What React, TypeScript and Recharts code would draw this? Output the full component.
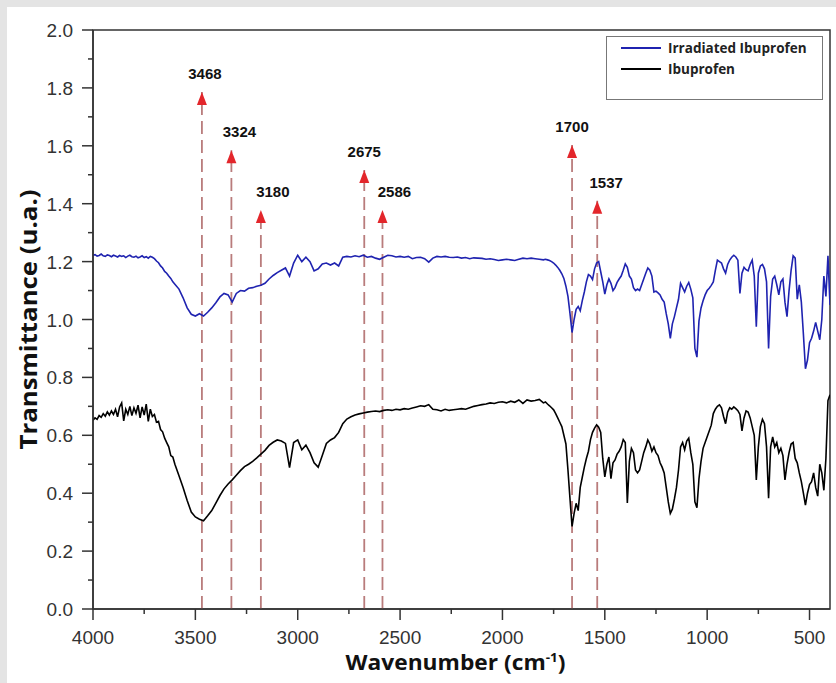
import React from 'react'
import {
  ComposedChart, Line, XAxis, YAxis, ReferenceLine, ReferenceDot,
  ReferenceArea, Label,
} from 'recharts'

// wavenumber grid (cm-1)
const wavenumbers = [
  4000, 3990, 3980, 3970, 3960, 3950, 3940, 3930, 3920, 3910,
  3900, 3890, 3880, 3870, 3860, 3850, 3840, 3830, 3820, 3810,
  3800, 3790, 3780, 3770, 3760, 3750, 3740, 3730, 3720, 3710,
  3700, 3690, 3680, 3670, 3660, 3650, 3640, 3630, 3620, 3610,
  3600,
  3580, 3560, 3540, 3520, 3500, 3480, 3460, 3440, 3420, 3400,
  3380, 3360, 3340, 3320, 3300, 3280, 3260, 3240, 3220, 3200,
  3180, 3160, 3140, 3120, 3100, 3080, 3060, 3040, 3020, 3000,
  2980, 2960, 2940, 2920, 2900, 2880, 2860, 2840, 2820, 2800,
  2780, 2760, 2740, 2720, 2700, 2680, 2660, 2640, 2620, 2600,
  2580, 2560, 2540, 2520, 2500, 2480, 2460, 2440, 2420, 2400,
  2380, 2360, 2340, 2320, 2300, 2280, 2260, 2240, 2220, 2200,
  2180, 2160, 2140, 2120, 2100, 2080, 2060, 2040, 2020, 2000,
  1980, 1960, 1940, 1920, 1900, 1880, 1860, 1840, 1820, 1800,
  1790, 1780, 1770, 1760, 1750, 1740, 1730, 1720, 1710, 1700,
  1690, 1680, 1670, 1660, 1650, 1640, 1630, 1620, 1610, 1600,
  1590, 1580, 1570, 1560, 1550, 1540, 1530, 1520, 1510, 1500,
  1490, 1480, 1470, 1460, 1450, 1440, 1430, 1420, 1410, 1400,
  1390, 1380, 1370, 1360, 1350, 1340, 1330, 1320, 1310, 1300,
  1290, 1280, 1270, 1260, 1250, 1240, 1230, 1220, 1210, 1200,
  1190, 1180, 1170, 1160, 1150, 1140, 1130, 1120, 1110, 1100,
  1090, 1080, 1070, 1060, 1050, 1040, 1030, 1020, 1010, 1000,
  990, 980, 970, 960, 950, 940, 930, 920, 910, 900,
  890, 880, 870, 860, 850, 840, 830, 820, 810, 800,
  790, 780, 770, 760, 750, 740, 730, 720, 710, 700,
  690, 680, 670, 660, 650, 640, 630, 620, 610, 600,
  590, 580, 570, 560, 550, 540, 530, 520, 510, 500,
  490, 480, 470, 460, 450, 440, 430, 420, 410, 400,
]

const irradiated = [
  1.222, 1.224, 1.219, 1.221, 1.226, 1.220, 1.218, 1.223, 1.221, 1.217,
  1.222, 1.219, 1.216, 1.221, 1.218, 1.220, 1.214, 1.219, 1.222, 1.217,
  1.215, 1.219, 1.213, 1.216, 1.220, 1.214, 1.217, 1.212, 1.218, 1.215,
  1.210, 1.202, 1.196, 1.185, 1.178, 1.166, 1.160, 1.150, 1.142, 1.130,
  1.122,
  1.105, 1.075, 1.040, 1.018, 1.012, 1.020, 1.012, 1.025, 1.040, 1.058,
  1.078, 1.090, 1.085, 1.060, 1.090, 1.100, 1.098, 1.108, 1.110, 1.115,
  1.118, 1.125, 1.140, 1.152, 1.162, 1.170, 1.178, 1.150, 1.195, 1.222,
  1.200, 1.215, 1.200, 1.168, 1.175, 1.192, 1.195, 1.188, 1.195, 1.185,
  1.215, 1.218, 1.216, 1.220, 1.217, 1.222, 1.215, 1.218, 1.212, 1.208,
  1.215, 1.222, 1.220, 1.216, 1.218, 1.215, 1.218, 1.210, 1.214, 1.215,
  1.210, 1.198, 1.212, 1.218, 1.216, 1.218, 1.215, 1.214, 1.216, 1.212,
  1.214, 1.210, 1.213, 1.212, 1.211, 1.208, 1.210, 1.207, 1.204, 1.206,
  1.208, 1.206, 1.204, 1.208, 1.212, 1.210, 1.212, 1.210, 1.208, 1.206,
  1.208, 1.206, 1.204, 1.200, 1.195, 1.188, 1.180, 1.170, 1.158, 1.142,
  1.115, 1.080, 1.020, 0.955, 1.000, 1.035, 1.045, 1.030, 1.065, 1.095,
  1.130, 1.155, 1.150, 1.138, 1.175, 1.195, 1.200, 1.165, 1.130, 1.088,
  1.120, 1.140, 1.125, 1.100, 1.110, 1.128, 1.140, 1.150, 1.170, 1.192,
  1.180, 1.150, 1.140, 1.110, 1.100, 1.105, 1.100, 1.120, 1.140, 1.160,
  1.178, 1.170, 1.150, 1.095, 1.098, 1.092, 1.085, 1.070, 1.060, 1.020,
  0.985, 0.935, 0.985, 1.010, 1.040, 1.070, 1.125, 1.110, 1.095, 1.115,
  1.128, 1.105, 1.075, 0.900, 0.870, 0.995, 1.040, 1.065, 1.085, 1.100,
  1.108, 1.118, 1.130, 1.170, 1.205, 1.200, 1.195, 1.175, 1.160, 1.190,
  1.205, 1.215, 1.222, 1.216, 1.205, 1.090, 1.160, 1.180, 1.172, 1.168,
  1.190, 1.205, 1.150, 0.975, 1.160, 1.185, 1.190, 1.175, 1.130, 0.900,
  1.080, 1.140, 1.150, 1.120, 1.085, 1.130, 1.140, 1.060, 1.010, 1.100,
  1.170, 1.220, 1.212, 1.070, 1.120, 1.060, 0.950, 0.830, 0.860, 0.920,
  0.935, 0.960, 0.990, 0.960, 0.930, 1.000, 1.150, 1.080, 1.220, 1.050,
]

const ibuprofen = [
  0.652, 0.660, 0.655, 0.668, 0.662, 0.675, 0.666, 0.681, 0.670, 0.684,
  0.672, 0.690, 0.664, 0.698, 0.712, 0.650, 0.690, 0.672, 0.700, 0.668,
  0.695, 0.676, 0.704, 0.660, 0.698, 0.670, 0.708, 0.648, 0.690, 0.665,
  0.672, 0.645, 0.648, 0.620, 0.612, 0.590, 0.575, 0.560, 0.530, 0.525,
  0.500,
  0.460, 0.420, 0.375, 0.335, 0.318, 0.310, 0.305, 0.322, 0.340, 0.366,
  0.392, 0.415, 0.432, 0.446, 0.462, 0.478, 0.492, 0.500, 0.510, 0.522,
  0.535, 0.548, 0.565, 0.576, 0.584, 0.580, 0.572, 0.488, 0.575, 0.584,
  0.550, 0.566, 0.540, 0.505, 0.490, 0.530, 0.572, 0.584, 0.592, 0.610,
  0.640, 0.656, 0.664, 0.670, 0.674, 0.677, 0.680, 0.682, 0.684, 0.682,
  0.686, 0.688, 0.686, 0.690, 0.688, 0.692, 0.690, 0.694, 0.698, 0.702,
  0.700, 0.706, 0.690, 0.688, 0.684, 0.690, 0.686, 0.688, 0.690, 0.692,
  0.690, 0.695, 0.700, 0.703, 0.706, 0.708, 0.712, 0.710, 0.714, 0.716,
  0.712, 0.718, 0.714, 0.722, 0.710, 0.722, 0.718, 0.720, 0.724, 0.712,
  0.715, 0.708, 0.702, 0.695, 0.688, 0.675, 0.660, 0.645, 0.630, 0.600,
  0.570, 0.480, 0.380, 0.285, 0.330, 0.365, 0.340, 0.420, 0.455, 0.490,
  0.520, 0.545, 0.585, 0.610, 0.625, 0.636, 0.628, 0.610, 0.520, 0.456,
  0.500, 0.525, 0.450, 0.505, 0.515, 0.535, 0.545, 0.560, 0.585, 0.575,
  0.366, 0.510, 0.555, 0.540, 0.480, 0.470, 0.480, 0.510, 0.540, 0.560,
  0.584, 0.570, 0.545, 0.560, 0.540, 0.530, 0.505, 0.490, 0.470, 0.420,
  0.370, 0.330, 0.345, 0.380, 0.420, 0.480, 0.560, 0.575, 0.550, 0.580,
  0.590, 0.540, 0.500, 0.370, 0.350, 0.450, 0.510, 0.555, 0.575, 0.595,
  0.615, 0.635, 0.675, 0.690, 0.700, 0.705, 0.695, 0.665, 0.640, 0.680,
  0.695, 0.690, 0.698, 0.692, 0.685, 0.672, 0.615, 0.660, 0.684, 0.680,
  0.660, 0.630, 0.600, 0.446, 0.560, 0.630, 0.655, 0.640, 0.560, 0.383,
  0.560, 0.594, 0.560, 0.575, 0.540, 0.555, 0.530, 0.446, 0.500, 0.540,
  0.570, 0.575, 0.520, 0.505, 0.470, 0.440, 0.400, 0.359, 0.400, 0.430,
  0.440, 0.470, 0.420, 0.390, 0.500, 0.470, 0.410, 0.520, 0.720, 0.740,
]

// marked bands
const peakLabels = ['3468', '3324', '3180', '2675', '2586', '1700', '1537']
const peakPositions = [3468, 3324, 3180, 2675, 2586, 1660, 1537]
const peakHeights = [1.786, 1.585, 1.378, 1.516, 1.378, 1.603, 1.41]
const labelNudge = [3, 8, 12, 0, 12, 0, 9]

const xTicks = [4000, 3750, 3500, 3250, 3000, 2750, 2500, 2250, 2000, 1750, 1500, 1250, 1000, 750, 500]
const yTicks = [0, 0.1, 0.2, 0.3, 0.4, 0.5, 0.6, 0.7, 0.8, 0.9, 1.0, 1.1, 1.2, 1.3, 1.4, 1.5, 1.6, 1.7, 1.8, 1.9, 2.0]

const rows = wavenumbers.map((w, i) => ({ w, irr: irradiated[i], ibu: ibuprofen[i] }))

const AXIS = '#333'
const TICK_FONT = '"Liberation Sans", Arial, sans-serif'
const LABEL_FONT = '"Open Sans", Lato, sans-serif'

const XTick = ({ x, y, payload }: any) => {
  const major = payload.value % 500 === 0
  return (
    <g>
      <line x1={x} y1={y} x2={x} y2={y + (major ? 11 : 5)} stroke={AXIS} strokeWidth={1.5} />
      {major && (
        <text x={x} y={y + 35} textAnchor="middle" fontSize={19} fill={AXIS} fontFamily={TICK_FONT}>
          {payload.value}
        </text>
      )}
    </g>
  )
}

const YTick = ({ x, y, payload }: any) => {
  const major = Math.round(payload.value * 10) % 2 === 0
  return (
    <g>
      <line x1={x} y1={y} x2={x - (major ? 11 : 5)} y2={y} stroke={AXIS} strokeWidth={1.5} />
      {major && (
        <text x={x - 20} y={y + 7} textAnchor="end" fontSize={19} fill={AXIS} fontFamily={TICK_FONT}>
          {payload.value.toFixed(1)}
        </text>
      )}
    </g>
  )
}

const series = [
  { key: 'irr', name: 'Irradiated Ibuprofen', color: '#1f23b0' },
  { key: 'ibu', name: 'Ibuprofen', color: '#000000' },
]

export default function App() {
  return (
    <div style={{ position: 'fixed', left: 0, top: 0, width: 836, height: 683, background: '#e4e4e4' }}>
      <div style={{ position: 'absolute', left: 7, top: 7, right: 0, bottom: 0, background: '#fff' }} />
      <div style={{ position: 'absolute', left: 0, top: 0 }}>
        <ComposedChart width={836} height={683} data={rows} margin={{ top: 30, right: 6, left: 0, bottom: 0 }}>
          <XAxis
            dataKey="w"
            type="number"
            domain={[400, 4000]}
            reversed
            allowDataOverflow
            ticks={xTicks}
            interval={0}
            tick={XTick}
            tickLine={false}
            tickSize={0}
            tickMargin={0}
            height={74}
            axisLine={{ stroke: AXIS, strokeWidth: 1.5 }}
          >
            <Label
              content={({ viewBox }: any) => {
                const cx = viewBox.x + viewBox.width / 2 - 6
                return (
                  <text x={cx} y={viewBox.y + 61} textAnchor="middle" fontSize={22} fontWeight={700} fill="#111" fontFamily={LABEL_FONT} textLength={220} lengthAdjust="spacingAndGlyphs">
                    Wavenumber (cm
                    <tspan fontSize={13} dy={-8}>-1</tspan>
                    <tspan dy={8}>)</tspan>
                  </text>
                )
              }}
            />
          </XAxis>
          <YAxis
            type="number"
            domain={[0, 2]}
            ticks={yTicks}
            interval={0}
            tick={YTick}
            tickLine={false}
            tickSize={0}
            tickMargin={0}
            width={93}
            axisLine={{ stroke: AXIS, strokeWidth: 1.5 }}
          >
            <Label
              content={({ viewBox }: any) => {
                const cy = viewBox.y + viewBox.height / 2
                return (
                  <text x={28} y={cy} transform={`rotate(-90 28 ${cy})`} textAnchor="middle" dominantBaseline="central" fontSize={23} fontWeight={700} fill="#111" fontFamily={LABEL_FONT} textLength={260} lengthAdjust="spacingAndGlyphs">
                    Transmittance (u.a.)
                  </text>
                )
              }}
            />
          </YAxis>
          <ReferenceArea x1={4000} x2={400} y1={0} y2={2} fill="none" stroke={AXIS} strokeWidth={1.5} />
          {peakPositions.map((p, i) => (
            <ReferenceLine
              key={'l' + i}
              segment={[{ x: p, y: 0 }, { x: p, y: peakHeights[i] }]}
              stroke="#b97c7c"
              strokeWidth={1.8}
              strokeDasharray="13 6"
            />
          ))}
          {series.map((s) => (
            <Line
              key={s.key}
              dataKey={s.key}
              name={s.name}
              type="linear"
              stroke={s.color}
              strokeWidth={1.6}
              dot={false}
              isAnimationActive={false}
            />
          ))}
          {peakPositions.map((p, i) => (
            <ReferenceDot
              key={'d' + i}
              x={p}
              y={peakHeights[i]}
              r={0}
              shape={(props: any) => (
                <g>
                  <path d={`M${props.cx},${props.cy} L${props.cx - 5},${props.cy + 13} L${props.cx + 5},${props.cy + 13} Z`} fill="#e3262b" />
                  <text x={props.cx + labelNudge[i]} y={props.cy - 13} textAnchor="middle" fontSize={15} fontWeight={700} fill="#111" fontFamily={TICK_FONT}>
                    {peakLabels[i]}
                  </text>
                </g>
              )}
            />
          ))}
        </ComposedChart>
      </div>
      <div
        style={{
          position: 'absolute', left: 606, top: 36, width: 215, height: 62,
          border: '1.5px solid #777', background: '#fff', fontFamily: LABEL_FONT,
          fontWeight: 700, fontSize: 13.5, color: '#222',
        }}
      >
        {series.map((s, i) => (
          <div key={s.key} style={{ position: 'absolute', left: 14, top: 2 + i * 21, display: 'flex', alignItems: 'center', whiteSpace: 'nowrap' }}>
            <span style={{ display: 'inline-block', width: 40, height: 2, background: s.color, marginRight: 7 }} />
            <span style={{ lineHeight: '18px' }}>{s.name}</span>
          </div>
        ))}
      </div>
    </div>
  )
}
